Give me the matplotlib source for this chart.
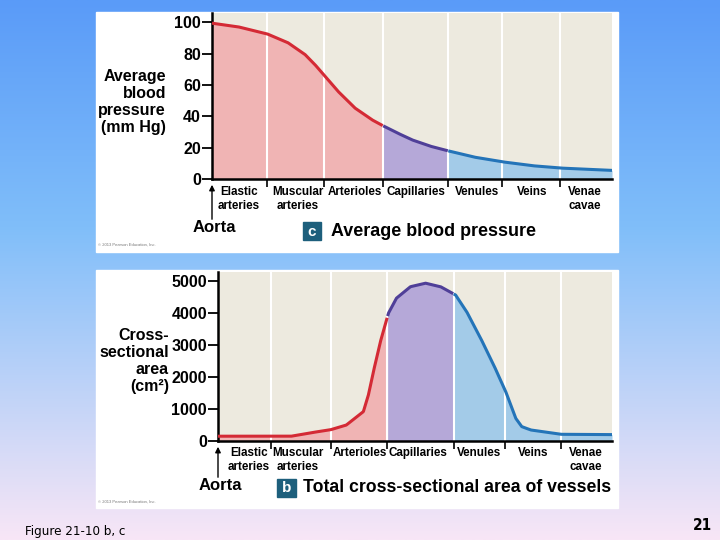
import numpy as np
import matplotlib.pyplot as plt
from matplotlib.colors import LinearSegmentedColormap
from matplotlib.patches import Rectangle

# vessel segments (category labels, boundaries in panel units)
categories = ["Elastic\narteries", "Muscular\narteries", "Arterioles", "Capillaries",
              "Venules", "Veins", "Venae\ncavae"]
bounds_c = [0, 55, 112, 171, 236, 290, 348, 400]
bounds_b = [0, 53, 113, 169, 235, 286, 342, 393]

# average blood pressure (mm Hg)
press_x = [0, 26, 55, 76, 93, 103, 113, 126, 143, 160, 171, 185, 200, 218, 236,
           262, 290, 320, 348, 375, 400]
press_y = [99.5, 97.2, 92.7, 87, 79.5, 73, 65.6, 56, 45.3, 37.8, 34, 29.5, 25, 21, 18,
           14, 11, 8.5, 7, 6.2, 5.5]

# total cross-sectional area (cm2)
area_x = [0, 30, 53, 73, 93, 112, 128, 145, 150, 155, 162, 170, 178, 192, 207, 222,
          237, 248, 262, 275, 287, 297, 303, 312, 342, 393]
area_y = [150, 150, 150, 150, 260, 350, 500, 920, 1440, 2170, 3110, 4000, 4470, 4830,
          4940, 4830, 4570, 4050, 3215, 2380, 1545, 710, 450, 345, 210, 200]

W, H = 720, 540
fig = plt.figure(figsize=(7.2, 5.4), dpi=100)

# gradient backdrop
bg = fig.add_axes([0, 0, 1, 1])
cmap = LinearSegmentedColormap.from_list(
    "bg", [(0, (90/255, 155/255, 248/255)), (0.42, (128/255, 190/255, 250/255)),
           (1, (248/255, 230/255, 246/255))])
bg.imshow(np.linspace(0, 1, 256)[:, None], aspect="auto", cmap=cmap,
          extent=[0, W, H, 0])
bg.set_xlim(0, W)
bg.set_ylim(H, 0)
bg.axis("off")

bg.add_patch(Rectangle((96, 12), 522, 240, color="white", zorder=2))
bg.add_patch(Rectangle((96, 270), 522, 238, color="white", zorder=2))

RED, RED_F = "#d42a35", "#f0b4b4"
PUR, PUR_F = "#4f3f98", "#b5a8d8"
BLU, BLU_F = "#2474b8", "#a3cbe8"
BEIGE = "#edeadf"
FONT = ["Liberation Sans", "DejaVu Sans"]


def fig_rect(x0, ytop, x1, ybot):
    return [x0 / W, (H - ybot) / H, (x1 - x0) / W, (ybot - ytop) / H]


def panel(rect, xs, ys, bounds, ylim, yticks):
    ax = fig.add_axes(rect)
    ax.set_facecolor(BEIGE)
    xs = np.array(xs, float)
    ys = np.array(ys, float)
    xf = np.linspace(0, bounds[-1], 800)
    yf = np.interp(xf, xs, ys)
    parts = [(0, 3, RED, RED_F), (3, 4, PUR, PUR_F), (4, 7, BLU, BLU_F)]
    for i0, i1, lc, fc in parts:
        m = (xf >= bounds[i0]) & (xf <= bounds[i1])
        ax.fill_between(xf[m], 0, yf[m], color=fc, lw=0, zorder=1)
        ax.plot(xf[m], yf[m], color=lc, lw=2.2, zorder=3, solid_capstyle="butt")
    for b in bounds[1:-1]:
        ax.axvline(b, color="white", lw=1.5, zorder=2)
    ax.set_xlim(0, bounds[-1])
    ax.set_ylim(*ylim)
    for s in ["top", "right"]:
        ax.spines[s].set_visible(False)
    ax.spines["left"].set_linewidth(1.8)
    ax.spines["bottom"].set_linewidth(1.8)
    ax.set_yticks(yticks)
    ax.set_yticklabels([str(t) for t in yticks], fontsize=11.5, fontweight="bold",
                       family=FONT)
    ax.tick_params(axis="y", length=7, width=1.3, pad=1)
    ax.set_xticks(bounds[1:-1])
    ax.set_xticklabels([])
    ax.tick_params(axis="x", length=6, width=1.2, direction="out")
    return ax


ax1 = panel(fig_rect(212, 13, 612, 179), press_x, press_y, bounds_c, (0, 106),
            [0, 20, 40, 60, 80, 100])
ax2 = panel(fig_rect(218, 272, 612, 441), area_x, area_y, bounds_b, (0, 5290),
            [0, 1000, 2000, 3000, 4000, 5000])

lab_c = [239, 298, 355, 416, 477, 532, 585]
lab_b = [249, 298, 360, 418, 479, 533, 586]
for xs, y0 in [(lab_c, 186), (lab_b, 447)]:
    for x, t in zip(xs, categories):
        bg.text(x, y0, t, ha="center", va="top", fontsize=8.4, fontweight="bold",
                family=FONT, linespacing=1.25, zorder=5)

# y labels
bg.text(166, 102, "Average\nblood\npressure\n(mm Hg)", ha="right", va="center",
        fontsize=11.5, fontweight="bold", family=FONT, linespacing=1.15, zorder=5)
bg.text(169, 361, "Cross-\nsectional\narea\n(cm²)", ha="right", va="center",
        fontsize=11.5, fontweight="bold", family=FONT, linespacing=1.15, zorder=5)

# aorta arrows
for ax_x, y_from, y_to, ty, tx in [(212, 222, 182, 228, 193), (218, 480, 444, 486, 199)]:
    bg.annotate("", xy=(ax_x, y_to), xytext=(ax_x, y_from),
                arrowprops=dict(arrowstyle="-|>", color="black", lw=1,
                                mutation_scale=8), zorder=5)
    bg.text(tx, ty, "Aorta", ha="left", va="center", fontsize=12, fontweight="bold",
            family=FONT, zorder=5)

# panel titles
bg.add_patch(Rectangle((303, 222), 18, 18, color="#1d5f7c", zorder=5))
bg.text(312, 231.5, "c", ha="center", va="center", color="white", fontsize=11,
        fontweight="bold", family=FONT, zorder=6)
bg.text(331, 232, "Average blood pressure", ha="left", va="center", fontsize=12.9,
        fontweight="bold", family=FONT, zorder=5)
bg.add_patch(Rectangle((277, 479), 19, 18, color="#1d5f7c", zorder=5))
bg.text(286.5, 488, "b", ha="center", va="center", color="white", fontsize=11,
        fontweight="bold", family=FONT, zorder=6)
bg.text(303, 488, "Total cross-sectional area of vessels", ha="left", va="center",
        fontsize=12.7, fontweight="bold", family=FONT, zorder=5)

for y in [245, 502]:
    bg.text(98, y, "© 2013 Pearson Education, Inc.", ha="left", va="center",
            fontsize=3, color="#777777", family=FONT, zorder=5)

# footer
bg.text(25, 531, "Figure 21-10 b, c", ha="left", va="center", fontsize=9.5,
        family=["Liberation Sans Narrow", "DejaVu Sans"], fontstretch="condensed",
        zorder=5)
bg.text(712, 526, "21", ha="right", va="center", fontsize=11, fontweight="bold",
        family=["Liberation Sans Narrow", "DejaVu Sans"], fontstretch="condensed",
        zorder=5)

fig.savefig("out.png", dpi=100)
